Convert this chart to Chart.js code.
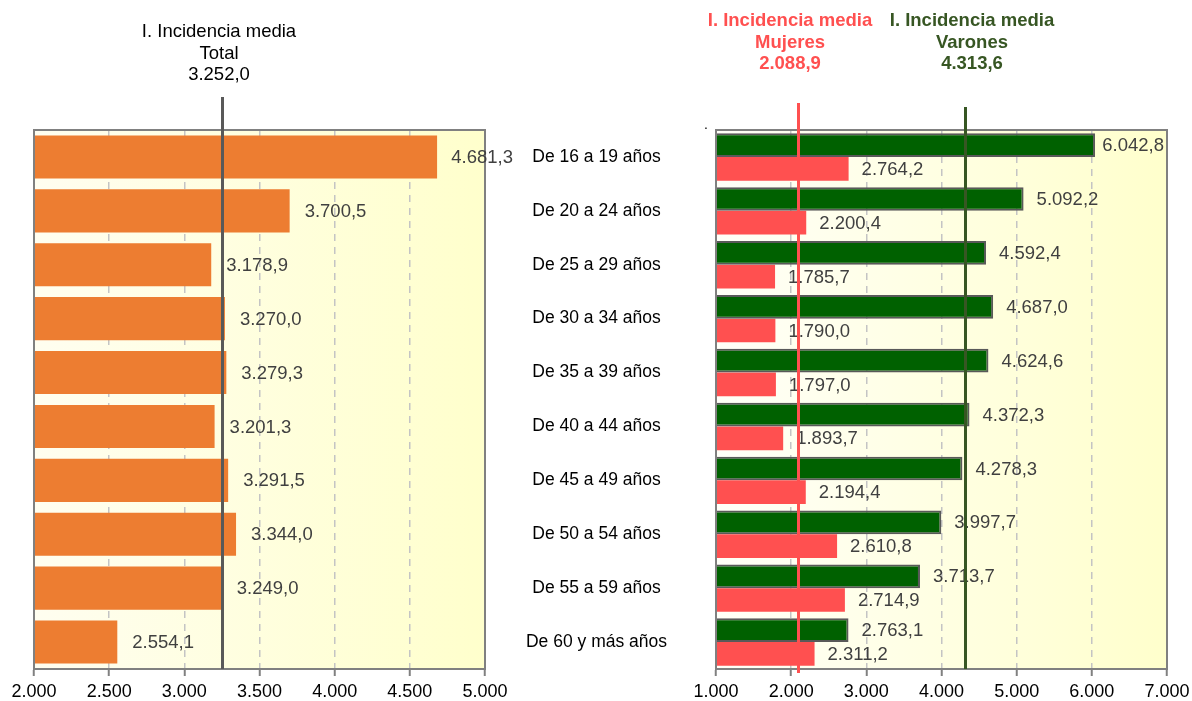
<!DOCTYPE html>
<html lang="es">
<head>
<meta charset="utf-8">
<title>Incidencia media por edad</title>
<script src="https://cdn.jsdelivr.net/npm/chart.js@4.4.1/dist/chart.umd.min.js"></script>
<style>
  body { margin: 0; background: #fff; font-family: "Liberation Sans", Arial, sans-serif; }
  #wrap { position: relative; width: 1192px; height: 701px; overflow: hidden; }
  canvas { position: absolute; top: 0; }
  .title { position: absolute; text-align: center; font-size: 18.5px; line-height: 21.5px;
           white-space: nowrap; transform: translateX(-50%); }
  .bold { font-weight: bold; }
</style>
</head>
<body>
<div id="wrap">
  <canvas id="leftChart" width="525" height="701" style="left:0"></canvas>
  <canvas id="rightChart" width="716" height="701" style="left:480px"></canvas>
  <div class="title" id="titleTotal" style="left:219px; top:20px; color:#000"></div>
  <div class="title bold" id="titleMujeres" style="left:790px; top:9px; color:#FF5050"></div>
  <div class="title bold" id="titleVarones" style="left:972px; top:9px; color:#375623"></div>
  <div style="position:absolute; left:704px; top:116px; font-size:14px">.</div>
</div>

<script>
// datos
const categories = ['De 16 a 19 años', 'De 20 a 24 años', 'De 25 a 29 años', 'De 30 a 34 años',
  'De 35 a 39 años', 'De 40 a 44 años', 'De 45 a 49 años', 'De 50 a 54 años',
  'De 55 a 59 años', 'De 60 y más años'];
const totalValues = [4681.3, 3700.5, 3178.9, 3270.0, 3279.3, 3201.3, 3291.5, 3344.0, 3249.0, 2554.1];
const varonesValues = [6042.8, 5092.2, 4592.4, 4687.0, 4624.6, 4372.3, 4278.3, 3997.7, 3713.7, 2763.1];
const mujeresValues = [2764.2, 2200.4, 1785.7, 1790.0, 1797.0, 1893.7, 2194.4, 2610.8, 2714.9, 2311.2];
const meanTotal = 3252.0;
const meanMujeres = 2088.9;
const meanVarones = 4313.6;
const leftTicks = [2000, 2500, 3000, 3500, 4000, 4500, 5000];
const rightTicks = [1000, 2000, 3000, 4000, 5000, 6000, 7000];

const FONT = '"Liberation Sans", Arial, sans-serif';

// 3252.0 -> "3.252,0"
function fmt(v, d) {
  const parts = v.toFixed(d).split('.');
  parts[0] = parts[0].replace(/\B(?=(\d{3})+(?!\d))/g, '.');
  return d ? parts[0] + ',' + parts[1] : parts[0];
}

document.getElementById('titleTotal').innerHTML = 'I. Incidencia media<br>Total<br>' + fmt(meanTotal, 1);
document.getElementById('titleMujeres').innerHTML = 'I. Incidencia media<br>Mujeres<br>' + fmt(meanMujeres, 1);
document.getElementById('titleVarones').innerHTML = 'I. Incidencia media<br>Varones<br>' + fmt(meanVarones, 1);

// fondo degradado del área de trazado
const plotBackground = {
  id: 'plotBackground',
  beforeDraw(chart, args, opts) {
    const { ctx, chartArea: a } = chart;
    const g = ctx.createLinearGradient(a.left, 0, a.right, 0);
    g.addColorStop(0, opts.from);
    g.addColorStop(1, opts.to);
    ctx.save();
    ctx.fillStyle = g;
    ctx.fillRect(a.left, a.top, a.width, a.height);
    ctx.restore();
  }
};

// etiquetas de valor al final de cada barra
const valueLabels = {
  id: 'valueLabels',
  afterDatasetsDraw(chart, args, opts) {
    const ctx = chart.ctx;
    ctx.save();
    ctx.font = '18.5px ' + FONT;
    ctx.fillStyle = '#404040';
    ctx.textBaseline = 'middle';
    ctx.textAlign = 'left';
    chart.data.datasets.forEach((ds, i) => {
      chart.getDatasetMeta(i).data.forEach((bar, j) => {
        const text = fmt(ds.data[j], 1);
        let x = bar.x + opts.offset;
        const w = ctx.measureText(text).width;
        if (x + w > chart.chartArea.right + opts.overflow) x = chart.chartArea.right + opts.overflow - w;
        ctx.fillText(text, x, bar.y + 1);
      });
    });
    ctx.restore();
  }
};

// líneas verticales de la incidencia media
const meanLines = {
  id: 'meanLines',
  afterDraw(chart, args, opts) {
    const { ctx, chartArea: a } = chart;
    const x = chart.scales.x;
    ctx.save();
    opts.lines.forEach(l => {
      const px = Math.round(x.getPixelForValue(l.value)) + 0.5;
      ctx.strokeStyle = l.color;
      ctx.lineWidth = 3;
      ctx.beginPath();
      ctx.moveTo(px, l.top);
      ctx.lineTo(px, a.bottom + (l.below || 0));
      ctx.stroke();
    });
    ctx.restore();
  }
};

// marco gris del área de trazado
const plotFrame = {
  id: 'plotFrame',
  afterDatasetsDraw(chart) {
    const { ctx, chartArea: a } = chart;
    ctx.save();
    ctx.strokeStyle = '#808080';
    ctx.lineWidth = 2;
    ctx.strokeRect(a.left, a.top, a.width, a.height);
    ctx.restore();
  }
};

function xScale(min, max, ticks) {
  return {
    type: 'linear',
    min: min,
    max: max,
    afterBuildTicks: s => { s.ticks = ticks.map(v => ({ value: v })); },
    afterFit: s => { s.height = 32; },
    grid: { color: '#C4C4C4', lineWidth: 1.5, tickLength: 7, tickColor: '#808080', tickWidth: 2 },
    border: { dash: [7, 6], color: '#808080', width: 2 },
    ticks: { color: '#000', padding: 5, font: { family: FONT, size: 18 }, callback: v => fmt(v, 0) }
  };
}

new Chart(document.getElementById('leftChart'), {
  type: 'bar',
  data: {
    labels: categories,
    datasets: [{
      label: 'Total',
      data: totalValues,
      backgroundColor: '#ED7D31',
      categoryPercentage: 0.8,
      barPercentage: 1
    }]
  },
  options: {
    indexAxis: 'y',
    responsive: false,
    animation: false,
    layout: { padding: { top: 130, left: 34, right: 40, bottom: 0 } },
    plugins: {
      legend: { display: false },
      tooltip: { enabled: false },
      plotBackground: { from: '#FFFEF0', to: '#FFFFCC' },
      valueLabels: { offset: 15, overflow: 28 },
      meanLines: { lines: [{ value: meanTotal, color: '#595959', top: 97 }] }
    },
    scales: {
      x: xScale(2000, 5000, leftTicks),
      y: { display: false }
    }
  },
  plugins: [plotBackground, plotFrame, valueLabels, meanLines]
});

new Chart(document.getElementById('rightChart'), {
  type: 'bar',
  data: {
    labels: categories,
    datasets: [{
      label: 'Varones',
      data: varonesValues,
      backgroundColor: '#006100',
      borderColor: '#595959',
      borderWidth: 2,
      borderSkipped: false,
      categoryPercentage: 0.88,
      barPercentage: 1
    }, {
      label: 'Mujeres',
      data: mujeresValues,
      backgroundColor: '#FF5050',
      categoryPercentage: 0.88,
      barPercentage: 1
    }]
  },
  options: {
    indexAxis: 'y',
    responsive: false,
    animation: false,
    layout: { padding: { top: 130, left: 0, right: 29, bottom: 0 } },
    plugins: {
      legend: { display: false },
      tooltip: { enabled: false },
      plotBackground: { from: '#FFFFF8', to: '#FFFFCC' },
      valueLabels: { offset: 13, overflow: -3 },
      meanLines: {
        lines: [
          { value: meanMujeres, color: '#FF5050', top: 103, below: 4 },
          { value: meanVarones, color: '#375623', top: 107 }
        ]
      }
    },
    scales: {
      x: xScale(1000, 7000, rightTicks),
      y: {
        position: 'left',
        // ancho fijo del eje; sin relleno vertical extra por el padding de las etiquetas
        afterFit: s => { s.width = 236; s.paddingTop = 0; s.paddingBottom = 0; },
        grid: { display: false, drawTicks: false },
        border: { display: false },
        ticks: { color: '#000', crossAlign: 'center', padding: 49, font: { family: FONT, size: 17.5 } }
      }
    }
  },
  plugins: [plotBackground, plotFrame, valueLabels, meanLines]
});
</script>
</body>
</html>
